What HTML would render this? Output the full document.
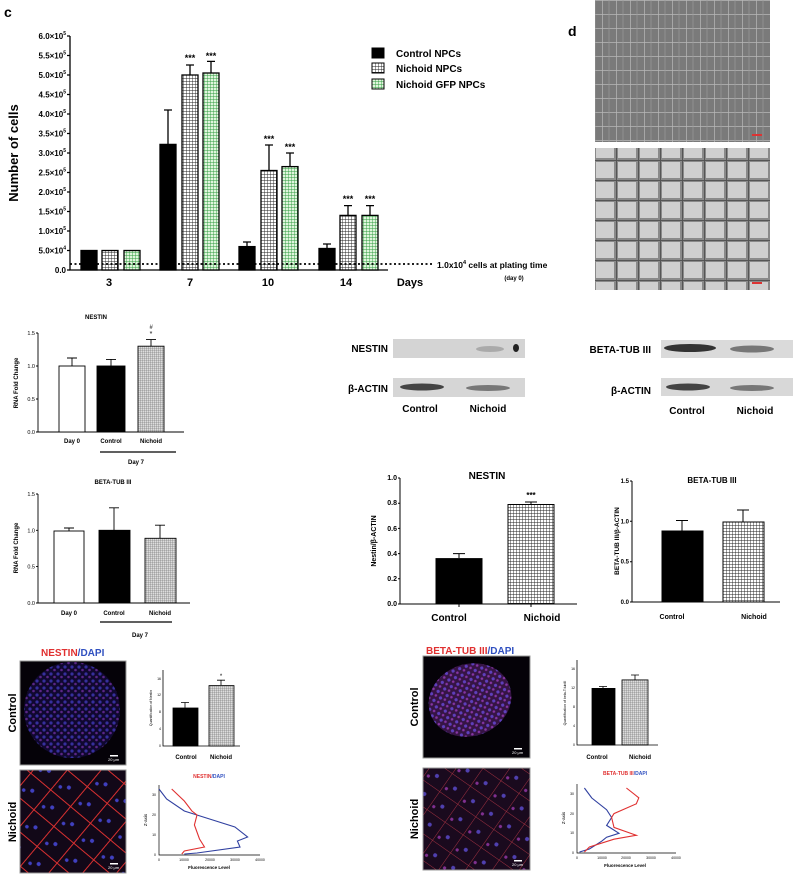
<!DOCTYPE html>
<html><head><meta charset="utf-8"><style>
html,body{margin:0;padding:0;background:#fff;}
svg{display:block;font-family:"Liberation Sans",sans-serif;}
</style></head><body>
<svg width="800" height="880" viewBox="0 0 800 880" xmlns="http://www.w3.org/2000/svg">
<defs>
<pattern id="hg" width="3" height="3" patternUnits="userSpaceOnUse"><rect width="3" height="3" fill="#fff"/><path d="M0 0H3M0 0V3" stroke="#222" stroke-width="0.9"/></pattern>
<pattern id="hgr" width="3" height="3" patternUnits="userSpaceOnUse"><rect width="3" height="3" fill="#dff5dc"/><path d="M0 0H3M0 0V3" stroke="#2e9a3e" stroke-width="0.9"/></pattern>
<pattern id="hs" width="2" height="2" patternUnits="userSpaceOnUse"><rect width="2" height="2" fill="#ddd"/><path d="M0 0H2M0 0V2" stroke="#666" stroke-width="0.6"/></pattern>
<pattern id="gridimg" width="14" height="14" patternUnits="userSpaceOnUse"><rect width="14" height="14" fill="#7a7a7a"/><path d="M0 0H14M0 0V14" stroke="#b8b8b8" stroke-width="1.4"/><path d="M7 0V14" stroke="#999" stroke-width="0.7"/></pattern>
<pattern id="gridimg2" width="22" height="20" patternUnits="userSpaceOnUse"><rect width="22" height="20" fill="#8a8a8a"/><rect x="2" y="2" width="18" height="16" fill="#cfcfcf"/><path d="M0 0H22M0 0V20" stroke="#555" stroke-width="2"/></pattern>
<pattern id="dots" width="7" height="7" patternUnits="userSpaceOnUse"><circle cx="2" cy="2" r="1.6" fill="#4a4ad0"/><circle cx="5.5" cy="5" r="1.3" fill="#8a3aa8"/></pattern>
<pattern id="redlines" width="26" height="26" patternUnits="userSpaceOnUse" patternTransform="rotate(40)"><rect width="26" height="26" fill="#120818"/><path d="M0 0H26M0 0V26" stroke="#d83030" stroke-width="2"/><circle cx="13" cy="13" r="2" fill="#4040c0"/><circle cx="6" cy="18" r="1.8" fill="#4040c0"/></pattern>
<pattern id="redlines2" width="22" height="22" patternUnits="userSpaceOnUse" patternTransform="rotate(35)"><rect width="22" height="22" fill="#1a0a1e"/><path d="M0 0H22M0 0V22" stroke="#a03040" stroke-width="1"/><circle cx="11" cy="11" r="2" fill="#5040b0"/><circle cx="4" cy="16" r="1.6" fill="#803090"/></pattern>
</defs>

<!-- Panel c -->
<text x="4" y="17" font-size="14" font-weight="bold">c</text>
<text transform="translate(18,153) rotate(-90)" text-anchor="middle" font-size="13" font-weight="bold">Number of cells</text>
<g font-size="8" font-weight="bold" text-anchor="end">
<text x="66" y="273">0.0</text>
<text x="66" y="253.5">5.0×10<tspan font-size="5" dy="-4">4</tspan></text>
<text x="66" y="234">1.0×10<tspan font-size="5" dy="-4">5</tspan></text>
<text x="66" y="214.5">1.5×10<tspan font-size="5" dy="-4">5</tspan></text>
<text x="66" y="195">2.0×10<tspan font-size="5" dy="-4">5</tspan></text>
<text x="66" y="175.5">2.5×10<tspan font-size="5" dy="-4">5</tspan></text>
<text x="66" y="156">3.0×10<tspan font-size="5" dy="-4">5</tspan></text>
<text x="66" y="136.5">3.5×10<tspan font-size="5" dy="-4">5</tspan></text>
<text x="66" y="117">4.0×10<tspan font-size="5" dy="-4">5</tspan></text>
<text x="66" y="97.5">4.5×10<tspan font-size="5" dy="-4">5</tspan></text>
<text x="66" y="78">5.0×10<tspan font-size="5" dy="-4">5</tspan></text>
<text x="66" y="58.5">5.5×10<tspan font-size="5" dy="-4">5</tspan></text>
<text x="66" y="39">6.0×10<tspan font-size="5" dy="-4">5</tspan></text>
</g>
<g stroke="#000" stroke-width="1.3" fill="none">
<path d="M70 36V270H388"/>
<path d="M67 270H70M67 250.5H70M67 231H70M67 211.5H70M67 192H70M67 172.5H70M67 153H70M67 133.5H70M67 114H70M67 94.5H70M67 75H70M67 55.5H70M67 36H70"/>
</g>
<g stroke="#000" stroke-width="1.3">
<rect x="81" y="250.5" width="16" height="19.5" fill="#000"/>
<rect x="102" y="250.5" width="16" height="19.5" fill="url(#hg)"/>
<rect x="124" y="250.5" width="16" height="19.5" fill="url(#hgr)"/>
<rect x="160" y="144.4" width="16" height="125.6" fill="#000"/>
<rect x="182" y="75" width="16" height="195" fill="url(#hg)"/>
<rect x="203" y="73" width="16" height="197" fill="url(#hgr)"/>
<rect x="239" y="246.6" width="16" height="23.4" fill="#000"/>
<rect x="261" y="170.5" width="16" height="99.5" fill="url(#hg)"/>
<rect x="282" y="166.6" width="16" height="103.4" fill="url(#hgr)"/>
<rect x="319" y="248.5" width="16" height="21.5" fill="#000"/>
<rect x="340" y="215.4" width="16" height="54.6" fill="url(#hg)"/>
<rect x="362" y="215.4" width="16" height="54.6" fill="url(#hgr)"/>
<path fill="none" d="M168 144V110M164 110H172M190 75V65M186 65H194M211 73V61.4M207 61.4H215M247 246V242M243 242H251M269 170V145M265 145H273M290 166V153M286 153H294M327 248V244M323 244H331M348 215V205.6M344 205.6H352M370 215V205.6M366 205.6H374"/>
</g>
<g font-size="9" font-weight="bold" text-anchor="middle">
<text x="190" y="61">***</text><text x="211" y="59">***</text>
<text x="269" y="142">***</text><text x="290" y="150">***</text>
<text x="348" y="202">***</text><text x="370" y="202">***</text>
</g>
<path d="M70 264H432" stroke="#000" stroke-width="1.8" stroke-dasharray="2,2.5"/>
<text x="437" y="268" font-size="8.5" font-weight="bold">1.0x10<tspan font-size="5.5" dy="-4">4</tspan><tspan dy="4"> cells at plating time</tspan></text>
<text x="514" y="280" font-size="6" font-weight="bold" text-anchor="middle">(day 0)</text>
<g font-size="11" font-weight="bold" text-anchor="middle">
<text x="109" y="286">3</text><text x="190" y="286">7</text><text x="268" y="286">10</text><text x="346" y="286">14</text>
<text x="410" y="286">Days</text>
</g>
<g stroke="#000" stroke-width="1">
<rect x="372" y="48" width="12" height="10" fill="#000"/>
<rect x="372" y="63" width="12" height="10" fill="url(#hg)"/>
<rect x="372" y="79" width="12" height="10" fill="url(#hgr)"/>
</g>
<g font-size="10" font-weight="bold">
<text x="396" y="57">Control NPCs</text><text x="396" y="72">Nichoid NPCs</text><text x="396" y="88">Nichoid GFP NPCs</text>
</g>

<!-- Panel d -->
<text x="568" y="36" font-size="14" font-weight="bold">d</text>
<rect x="595" y="0" width="175" height="142" fill="url(#gridimg)"/>
<rect x="595" y="148" width="175" height="142" fill="url(#gridimg2)"/>
<rect x="752" y="134" width="10" height="2" fill="#d33"/>
<rect x="752" y="282" width="10" height="2" fill="#d33"/>

<!-- qPCR NESTIN -->
<text x="96" y="319" font-size="6" font-weight="bold" text-anchor="middle">NESTIN</text>
<text transform="translate(18,383) rotate(-90)" font-size="6" font-weight="bold" text-anchor="middle">RNA Fold Change</text>
<g font-size="5.5" text-anchor="end"><text x="35" y="434">0.0</text><text x="35" y="401">0.5</text><text x="35" y="368">1.0</text><text x="35" y="335">1.5</text></g>
<g stroke="#000" stroke-width="0.9" fill="none">
<path d="M38 333V432H184M36 432H38M36 399H38M36 366H38M36 333H38"/>
<rect x="59" y="366" width="26" height="66" fill="#fff"/>
<rect x="97" y="366" width="28" height="66" fill="#000"/>
<rect x="138" y="346.2" width="26" height="85.8" fill="url(#hs)"/>
<path d="M72 366V358M67 358H77M111 366V359.4M106 359.4H116M151 346V339.6M146 339.6H156"/>
<path d="M100 452H176" stroke-width="1.2"/>
</g>
<text x="151" y="336" font-size="7" text-anchor="middle">*</text>
<text x="151" y="329" font-size="6" text-anchor="middle" font-style="italic">#</text>
<g font-size="6" font-weight="bold" text-anchor="middle"><text x="72" y="443">Day 0</text><text x="111" y="443">Control</text><text x="151" y="443">Nichoid</text><text x="136" y="464">Day 7</text></g>

<!-- qPCR BETA-TUB -->
<text x="113" y="484" font-size="6" font-weight="bold" text-anchor="middle">BETA-TUB III</text>
<text transform="translate(18,548) rotate(-90)" font-size="6" font-weight="bold" text-anchor="middle">RNA Fold Change</text>
<g font-size="5.5" text-anchor="end"><text x="35" y="605">0.0</text><text x="35" y="568.6">0.5</text><text x="35" y="532.3">1.0</text><text x="35" y="496">1.5</text></g>
<g stroke="#000" stroke-width="0.9" fill="none">
<path d="M38 494V603H190M36 603H38M36 566.6H38M36 530.3H38M36 494H38"/>
<rect x="54" y="531" width="30" height="72" fill="#fff"/>
<rect x="99" y="530.3" width="31" height="72.7" fill="#000"/>
<rect x="145" y="538.3" width="31" height="64.7" fill="url(#hs)"/>
<path d="M69 531V528M64 528H74M114 530V507.8M109 507.8H119M160 538V525.2M155 525.2H165"/>
<path d="M100 622H172" stroke-width="1.2"/>
</g>
<g font-size="6" font-weight="bold" text-anchor="middle"><text x="69" y="615">Day 0</text><text x="114" y="615">Control</text><text x="160" y="615">Nichoid</text><text x="140" y="637">Day 7</text></g>

<!-- Western blots -->
<g font-size="10" font-weight="bold" text-anchor="end">
<text x="388" y="352">NESTIN</text><text x="388" y="392">β-ACTIN</text>
<text x="651" y="353">BETA-TUB III</text><text x="651" y="394">β-ACTIN</text>
</g>
<rect x="393" y="339" width="132" height="19" fill="#d4d4d4"/>
<ellipse cx="516" cy="348" rx="3" ry="4" fill="#222"/>
<ellipse cx="490" cy="349" rx="14" ry="3" fill="#aaa"/>
<rect x="393" y="378" width="132" height="19" fill="#d6d6d6"/>
<ellipse cx="422" cy="387" rx="22" ry="3.5" fill="#444"/>
<ellipse cx="488" cy="388" rx="22" ry="3" fill="#777"/>
<rect x="661" y="340" width="132" height="18" fill="#dadada"/>
<ellipse cx="690" cy="348" rx="26" ry="4" fill="#333"/>
<ellipse cx="752" cy="349" rx="22" ry="3.5" fill="#777"/>
<rect x="661" y="378" width="132" height="18" fill="#d8d8d8"/>
<ellipse cx="688" cy="387" rx="22" ry="3.5" fill="#444"/>
<ellipse cx="752" cy="388" rx="22" ry="3" fill="#777"/>
<g font-size="10" font-weight="bold" text-anchor="middle">
<text x="420" y="412">Control</text><text x="488" y="412">Nichoid</text>
<text x="687" y="414">Control</text><text x="755" y="414">Nichoid</text>
</g>

<!-- WB quant NESTIN -->
<text x="487" y="479" font-size="10" font-weight="bold" text-anchor="middle">NESTIN</text>
<text transform="translate(376,541) rotate(-90)" font-size="7" font-weight="bold" text-anchor="middle">Nestin/β-ACTIN</text>
<g font-size="7" font-weight="bold" text-anchor="end"><text x="397" y="606">0.0</text><text x="397" y="581">0.2</text><text x="397" y="556">0.4</text><text x="397" y="531">0.6</text><text x="397" y="505">0.8</text><text x="397" y="480">1.0</text></g>
<g stroke="#000" stroke-width="1" fill="none">
<path d="M400 478V604H577M398 604H400M398 578.8H400M398 553.6H400M398 528.4H400M398 503.2H400M398 478H400"/>
<rect x="436" y="558.6" width="46" height="45.4" fill="#000"/>
<rect x="508" y="504.5" width="46" height="99.5" fill="url(#hg)"/>
<path d="M459 558V553.6M453 553.6H465M531 504V502M525 502H537M459 604V607M531 604V607"/>
</g>
<text x="531" y="498" font-size="8" font-weight="bold" text-anchor="middle">***</text>
<g font-size="10" font-weight="bold" text-anchor="middle"><text x="449" y="621">Control</text><text x="542" y="621">Nichoid</text></g>

<!-- WB quant BETA -->
<text x="712" y="483" font-size="8" font-weight="bold" text-anchor="middle">BETA-TUB III</text>
<text transform="translate(619,541) rotate(-90)" font-size="6.5" font-weight="bold" text-anchor="middle">BETA-TUB III/β-ACTIN</text>
<g font-size="6" font-weight="bold" text-anchor="end"><text x="629" y="604">0.0</text><text x="629" y="563.7">0.5</text><text x="629" y="523.3">1.0</text><text x="629" y="483">1.5</text></g>
<g stroke="#000" stroke-width="1" fill="none">
<path d="M632 481V602H780M630 602H632M630 561.7H632M630 521.3H632M630 481H632"/>
<rect x="662" y="531" width="41" height="71" fill="#000"/>
<rect x="723" y="522" width="41" height="80" fill="url(#hg)"/>
<path d="M682 531V520.5M676 520.5H688M743 522V510M737 510H749"/>
</g>
<g font-size="7" font-weight="bold" text-anchor="middle"><text x="672" y="619">Control</text><text x="754" y="619">Nichoid</text></g>

<!-- IF NESTIN -->
<text x="41" y="656" font-size="10" font-weight="bold"><tspan fill="#e03030">NESTIN</tspan><tspan fill="#3050c0">/DAPI</tspan></text>
<rect x="20" y="661" width="106" height="104" fill="#050208"/>
<circle cx="72" cy="710" r="48" fill="url(#dots)"/>
<circle cx="72" cy="710" r="48" fill="#201060" opacity="0.45"/>
<rect x="20" y="770" width="106" height="103" fill="url(#redlines)"/>
<rect x="20" y="661" width="106" height="104" fill="none" stroke="#999" stroke-width="1"/>
<rect x="20" y="770" width="106" height="103" fill="none" stroke="#999" stroke-width="1"/>
<g fill="#fff" font-size="4"><rect x="110" y="755" width="8" height="1.5"/><rect x="110" y="863" width="8" height="1.5"/><text x="108" y="761">20 μm</text><text x="108" y="869">20 μm</text></g>
<text transform="translate(16,713) rotate(-90)" font-size="11" font-weight="bold" text-anchor="middle">Control</text>
<text transform="translate(16,822) rotate(-90)" font-size="11" font-weight="bold" text-anchor="middle">Nichoid</text>

<g stroke="#000" stroke-width="0.8" fill="none">
<path d="M163 670V746H240"/>
<rect x="173" y="708" width="25" height="38" fill="#000"/>
<rect x="209" y="685.6" width="25" height="60.4" fill="url(#hs)"/>
<path d="M185 708V702.5M181 702.5H189M221 685V680.2M217 680.2H225"/>
</g>
<g font-size="3.5" text-anchor="end"><text x="161" y="747">0</text><text x="161" y="730">4</text><text x="161" y="713">8</text><text x="161" y="696">12</text><text x="161" y="680">16</text></g>
<text transform="translate(152,708) rotate(-90)" font-size="3.5" text-anchor="middle">Quantification of Nestin</text>
<text x="221" y="678" font-size="6" text-anchor="middle">*</text>
<g font-size="6" font-weight="bold" text-anchor="middle"><text x="186" y="759">Control</text><text x="221" y="759">Nichoid</text></g>

<text x="209" y="778" font-size="5" font-weight="bold" text-anchor="middle"><tspan fill="#e03030">NESTIN</tspan><tspan fill="#3050c0">/DAPI</tspan></text>
<g stroke="#000" stroke-width="0.7" fill="none"><path d="M159 785V855H260"/></g>
<g font-size="3.5" text-anchor="middle"><text x="159" y="861">0</text><text x="184" y="861">10000</text><text x="210" y="861">20000</text><text x="235" y="861">30000</text><text x="260" y="861">40000</text></g>
<g font-size="3.5" text-anchor="end"><text x="156" y="856">0</text><text x="156" y="836">10</text><text x="156" y="816">20</text><text x="156" y="796">30</text></g>
<text x="209" y="869" font-size="4.5" font-weight="bold" text-anchor="middle">Fluorescence Level</text>
<text transform="translate(147,820) rotate(-90)" font-size="4.5" text-anchor="middle">Z-axis</text>
<polyline fill="none" stroke="#3040a0" stroke-width="1.1" points="159,789 166.6,799 184.3,811 209.6,819 234.9,827 247.6,837 237.4,841 240,847 197,853 184.3,854"/>
<polyline fill="none" stroke="#e03030" stroke-width="1.1" points="171.7,789 184.3,801 191.9,811 197,815 194.4,825 199.5,839 204.5,847 184.3,851 181.8,854"/>

<!-- IF BETA -->
<text x="426" y="654" font-size="10" font-weight="bold"><tspan fill="#e03030">BETA-TUB III</tspan><tspan fill="#3050c0">/DAPI</tspan></text>
<rect x="423" y="656" width="107" height="102" fill="#050208"/>
<ellipse cx="470" cy="700" rx="42" ry="36" transform="rotate(-20 470 700)" fill="url(#dots)"/>
<ellipse cx="470" cy="700" rx="42" ry="36" transform="rotate(-20 470 700)" fill="#8030a0" opacity="0.4"/>
<rect x="423" y="768" width="107" height="102" fill="url(#redlines2)"/>
<rect x="423" y="656" width="107" height="102" fill="none" stroke="#999" stroke-width="1"/>
<rect x="423" y="768" width="107" height="102" fill="none" stroke="#999" stroke-width="1"/>
<g fill="#fff" font-size="4"><rect x="514" y="748" width="8" height="1.5"/><rect x="514" y="860" width="8" height="1.5"/><text x="512" y="754">20 μm</text><text x="512" y="866">20 μm</text></g>
<text transform="translate(418,707) rotate(-90)" font-size="11" font-weight="bold" text-anchor="middle">Control</text>
<text transform="translate(418,819) rotate(-90)" font-size="11" font-weight="bold" text-anchor="middle">Nichoid</text>

<g stroke="#000" stroke-width="0.8" fill="none">
<path d="M577 660V745H658"/>
<rect x="592" y="688.4" width="23" height="56.6" fill="#000"/>
<rect x="622" y="679.9" width="26" height="65.1" fill="url(#hs)"/>
<path d="M603 688V686.5M599 686.5H607M635 680V675M631 675H639"/>
</g>
<g font-size="3.5" text-anchor="end"><text x="575" y="746">0</text><text x="575" y="727">4</text><text x="575" y="708">8</text><text x="575" y="689">12</text><text x="575" y="670">16</text></g>
<text transform="translate(566,703) rotate(-90)" font-size="3.5" text-anchor="middle">Quantification of beta-T.tubIII</text>
<g font-size="6" font-weight="bold" text-anchor="middle"><text x="597" y="759">Control</text><text x="640" y="759">Nichoid</text></g>

<text x="625" y="775" font-size="5" font-weight="bold" text-anchor="middle"><tspan fill="#e03030">BETA-TUB III</tspan><tspan fill="#3050c0">/DAPI</tspan></text>
<g stroke="#000" stroke-width="0.7" fill="none"><path d="M577 784V853H676"/></g>
<g font-size="3.5" text-anchor="middle"><text x="577" y="859">0</text><text x="602" y="859">10000</text><text x="626" y="859">20000</text><text x="651" y="859">30000</text><text x="676" y="859">40000</text></g>
<g font-size="3.5" text-anchor="end"><text x="574" y="854">0</text><text x="574" y="834">10</text><text x="574" y="815">20</text><text x="574" y="795">30</text></g>
<text x="625" y="867" font-size="4.5" font-weight="bold" text-anchor="middle">Fluorescence Level</text>
<text transform="translate(565,818) rotate(-90)" font-size="4.5" text-anchor="middle">Z-axis</text>
<polyline fill="none" stroke="#3040a0" stroke-width="1.1" points="584.4,788 591.8,798 606.6,809.7 611.6,817.5 606.6,825.4 619,833.3 606.6,837.2 601.7,841.2 589.4,849 579.5,852"/>
<polyline fill="none" stroke="#e03030" stroke-width="1.1" points="626.4,788 638.8,797.8 636.3,803.8 614,813.6 611.6,817.5 614,827.4 636.3,835.3 614,839.2 589.4,847 584.4,852"/>
</svg>
</body></html>
